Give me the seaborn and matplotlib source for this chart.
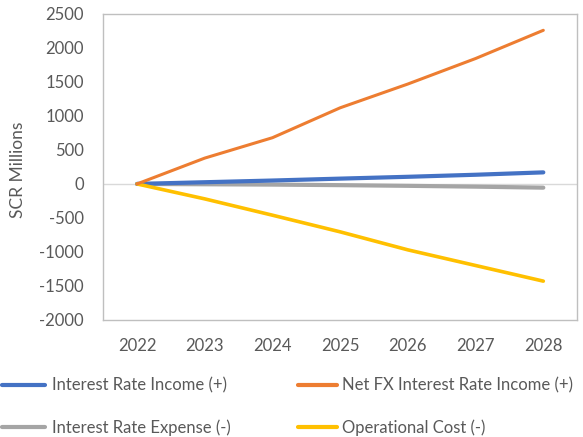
import matplotlib
matplotlib.use("Agg")
import matplotlib.pyplot as plt
import seaborn as sns
import pandas as pd
from matplotlib.lines import Line2D

years = [2022, 2023, 2024, 2025, 2026, 2027, 2028]
interest_income = [0, 25, 50, 78, 105, 135, 170]
net_fx_income = [0, 380, 680, 1120, 1470, 1845, 2260]
interest_expense = [0, -5, -10, -18, -28, -40, -55]
operational_cost = [0, -220, -460, -705, -970, -1200, -1430]

labels = ["Interest Rate Income (+)", "Net FX Interest Rate Income (+)",
          "Interest Rate Expense (-)", "Operational Cost (-)"]
series = [interest_income, net_fx_income, interest_expense, operational_cost]
colors = ["#4472C4", "#ED7D31", "#A5A5A5", "#FFC000"]
widths = [3.0, 2.2, 3.0, 2.6]
y_ticks = [-2000, -1500, -1000, -500, 0, 500, 1000, 1500, 2000, 2500]

df = pd.DataFrame({
    "Year": years * len(series),
    "Value": [v for s in series for v in s],
    "Series": [lab for lab in labels for _ in years],
})

sns.set_theme(style="white")
plt.rcParams["font.family"] = ["Lato", "DejaVu Sans"]
text_color = "#595959"
fs = 12

fig = plt.figure(figsize=(5.83, 4.37), dpi=100)
ax = fig.add_axes([0.177, 0.268, 0.813, 0.70])

# zero reference line
ax.axhline(0, color="#D9D9D9", lw=1.0, zorder=1)

draw_order = [2, 0, 3, 1]
for i in draw_order:
    sub = df[df["Series"] == labels[i]]
    sns.lineplot(data=sub, x="Year", y="Value", ax=ax, color=colors[i],
                 lw=widths[i], legend=False, zorder=3,
                 solid_capstyle="round")

ax.set_xlim(2021.5, 2028.5)
ax.set_ylim(-2000, 2500)
ax.set_xticks(years)
ax.set_xticklabels([str(y) for y in years])
ax.set_yticks(y_ticks)
ax.set_yticklabels([str(t) for t in y_ticks])
ax.tick_params(axis="both", length=0, labelsize=fs, labelcolor=text_color)
ax.tick_params(axis="x", pad=13)
ax.tick_params(axis="y", pad=14)
ax.set_xlabel("")
ax.set_ylabel("SCR Millions", fontsize=12.5, color=text_color)
ax.yaxis.set_label_coords(-0.163, 0.49)
for sp in ax.spines.values():
    sp.set_color("#BFBFBF")
    sp.set_linewidth(1.0)

def handle(i):
    return Line2D([0], [0], color=colors[i], lw=3.0)

leg_kw = dict(frameon=False, fontsize=fs, labelcolor=text_color,
              handlelength=2.6, handletextpad=0.42, labelspacing=1.55,
              borderaxespad=0, borderpad=0)
leg1 = fig.legend([handle(0), handle(2)], [labels[0], labels[2]],
                  loc="upper left", bbox_to_anchor=(0.003, 0.136), **leg_kw)
leg_kw["handlelength"] = 2.35
leg_kw["handletextpad"] = 0.3
leg2 = fig.legend([handle(1), handle(3)], [labels[1], labels[3]],
                  loc="upper left", bbox_to_anchor=(0.511, 0.136), **leg_kw)

fig.savefig("out.png", dpi=100)
